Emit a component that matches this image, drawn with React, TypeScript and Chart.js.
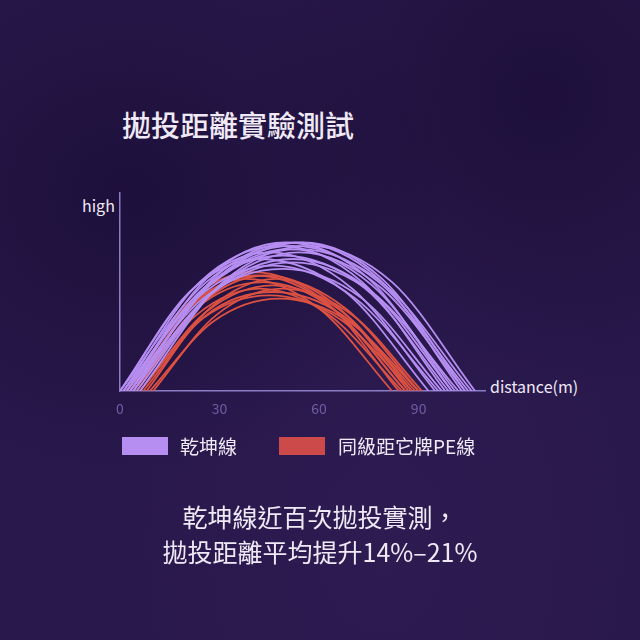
import { useEffect, useRef } from "react"
import { Chart, registerables } from "chart.js"

Chart.register(...registerables)

// 乾坤線 throws: distance (m) at launch, rising shoulder, apex, falling shoulder, landing
const purpleX = [
  [0, 21, 42, 68, 93],
  [0, 22, 45, 70, 95],
  [1, 23, 46, 71, 96],
  [1, 24, 48, 73, 98],
  [2, 25, 49, 74, 99],
  [2, 26, 50, 75, 100],
  [3, 27, 51, 76, 101],
  [3, 27, 52, 77, 102],
  [4, 28, 53, 78, 103],
  [5, 29, 54, 79, 104],
  [0, 26, 52, 78, 105],
  [1, 27, 54, 80, 106],
  [2, 25, 49, 73, 97],
  [4, 28, 52, 76, 100],
  [3, 29, 55, 79, 104],
  [6, 31, 57, 82, 107],
]
const purpleY = [
  [0, 30, 40, 30, 0],
  [0, 31, 42, 31, 0],
  [0, 28, 38, 28, 0],
  [0, 33, 44, 33, 0],
  [0, 31, 41, 31, 0],
  [0, 34, 45, 34, 0],
  [0, 32, 43, 32, 0],
  [0, 29, 39, 29, 0],
  [0, 34, 45, 34, 0],
  [0, 31, 42, 31, 0],
  [0, 33, 44, 33, 0],
  [0, 32, 43, 32, 0],
  [0, 28, 37, 28, 0],
  [0, 30, 40, 30, 0],
  [0, 34, 45, 34, 0],
  [0, 33, 44, 33, 0],
]

// 同級距它牌PE線 throws
const redX = [
  [2, 20, 38, 60, 82],
  [3, 21, 40, 62, 84],
  [4, 23, 42, 63, 85],
  [4, 23, 43, 64, 86],
  [5, 24, 44, 65, 87],
  [6, 25, 45, 66, 88],
  [6, 26, 46, 67, 88],
  [7, 26, 46, 67, 89],
  [8, 27, 47, 68, 90],
  [9, 28, 48, 69, 90],
  [10, 29, 49, 70, 91],
  [3, 22, 41, 63, 86],
]
const redY = [
  [0, 25, 34, 25, 0],
  [0, 27, 36, 27, 0],
  [0, 23, 31, 23, 0],
  [0, 25, 33, 25, 0],
  [0, 26, 35, 26, 0],
  [0, 22, 29, 22, 0],
  [0, 24, 32, 24, 0],
  [0, 23, 30, 23, 0],
  [0, 25, 34, 25, 0],
  [0, 21, 28, 21, 0],
  [0, 23, 31, 23, 0],
  [0, 26, 35, 26, 0],
]

const xTicks = [0, 30, 60, 90]

const PURPLE = "#b68ef2"
const RED = "#dc5142"
const AXIS = "#8c7cc6"
const FONT = "'Noto Sans CJK TC', 'Noto Sans', sans-serif"

function makeSets(xs: number[][], ys: number[][], color: string) {
  return xs.map((row, i) => ({
    data: row.map((x, j) => ({ x, y: ys[i][j] })),
    borderColor: color,
    borderWidth: 1.8,
    pointRadius: 0,
    cubicInterpolationMode: "monotone" as const,
    fill: false,
  }))
}

export default function App() {
  const chartRef = useRef<HTMLCanvasElement>(null)
  const chartInstance = useRef<Chart | null>(null)

  useEffect(() => {
    if (!chartRef.current) return
    if (chartInstance.current) chartInstance.current.destroy()
    const ctx = chartRef.current.getContext("2d")
    if (!ctx) return

    chartInstance.current = new Chart(ctx, {
      type: "line",
      data: {
        datasets: [...makeSets(purpleX, purpleY, PURPLE), ...makeSets(redX, redY, RED)],
      },
      options: {
        animation: false,
        responsive: true,
        maintainAspectRatio: false,
        layout: { padding: { left: 120, right: 155, top: 193, bottom: 219 } },
        plugins: { legend: { display: false }, tooltip: { enabled: false } },
        scales: {
          x: {
            type: "linear",
            min: 0,
            max: 110,
            grid: { display: false, drawTicks: false },
            border: { display: true, color: AXIS, width: 1.5 },
            afterFit: (scale: any) => {
              scale.height = 30
            },
            afterBuildTicks: (scale: any) => {
              scale.ticks = xTicks.map((v) => ({ value: v }))
            },
            ticks: {
              padding: 9,
              color: "#6f5ea3",
              font: { family: FONT, size: 14 },
            },
          },
          y: {
            min: 0,
            max: 60,
            grid: { display: false, drawTicks: false },
            border: { display: true, color: AXIS, width: 1.5 },
            ticks: { display: false },
            afterFit: (scale: any) => {
              scale.width = 0
            },
          },
        },
      },
    })

    return () => {
      if (chartInstance.current) chartInstance.current.destroy()
    }
  }, [])

  const text = { position: "absolute" as const, color: "#efe9f6", fontFamily: FONT, lineHeight: 1, whiteSpace: "nowrap" as const }

  return (
    <div
      style={{
        position: "fixed",
        left: 0,
        top: 0,
        width: 640,
        height: 640,
        overflow: "hidden",
        background:
          "radial-gradient(ellipse at 20% 30%, rgba(18,8,42,0.5), transparent 45%), radial-gradient(ellipse at 85% 15%, rgba(16,6,38,0.45), transparent 40%), radial-gradient(ellipse at 60% 85%, rgba(60,40,100,0.2), transparent 50%), #29184c",
      }}
    >
      <div style={{ ...text, left: 122, top: 110, fontSize: 29, fontWeight: 500 }}>拋投距離實驗測試</div>
      <div style={{ ...text, left: 82, top: 197, fontSize: 16 }}>high</div>
      <div style={{ ...text, left: 490, top: 378, fontSize: 16 }}>distance(m)</div>
      <div style={{ position: "absolute", left: 0, top: 0, width: 640, height: 640 }}>
        <canvas ref={chartRef} />
      </div>
      <div style={{ position: "absolute", left: 122, top: 437, width: 46, height: 18, background: PURPLE }} />
      <div style={{ ...text, left: 180, top: 436, fontSize: 19 }}>乾坤線</div>
      <div style={{ position: "absolute", left: 279, top: 437, width: 46, height: 18, background: "#cc4a4a" }} />
      <div style={{ ...text, left: 338, top: 436, fontSize: 19 }}>同級距它牌PE線</div>
      <div style={{ ...text, left: 0, width: 640, top: 499, fontSize: 25, lineHeight: "35px", textAlign: "center", whiteSpace: "normal" }}>
        乾坤線近百次拋投實測，
        <br />
        拋投距離平均提升14%–21%
      </div>
    </div>
  )
}
